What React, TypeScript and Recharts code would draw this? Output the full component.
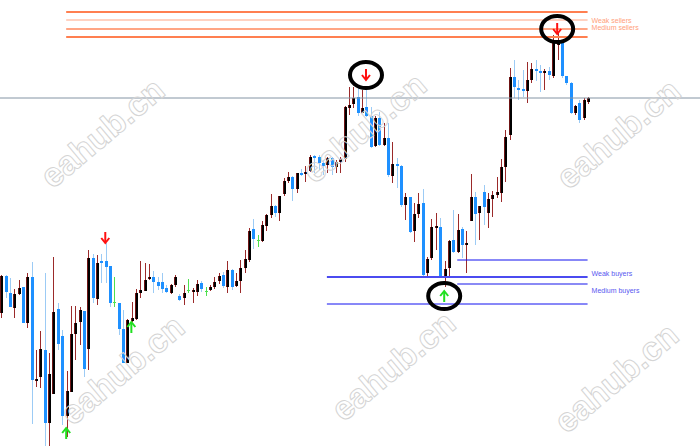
import { ComposedChart, Bar, XAxis, YAxis, ReferenceLine, ReferenceDot } from 'recharts';

// candle prices (chart has no price scale, so units are points)
const opens = [
  134, 171, 154, 139, 153, 160, 124, 170, 66, 70, 97, 24, 53, 138, 111, 31, 55, 113, 125, 136,
  98, 189, 148, 186, 186, 181, 145, 144, 118, 84, 126, 128, 154, 156, 168, 170, 165, 165, 159, 154,
  162, 151, 149, 157, 155, 155, 164, 156, 157, 160, 166, 172, 160, 177, 161, 166, 179, 187, 218, 207,
  206, 221, 232, 241, 234, 253, 266, 270, 258, 274, 273, 276, 291, 290, 284, 282, 289, 280, 285, 288,
  339, 343, 350, 334, 340, 331, 301, 329, 302, 309, 271, 283, 281, 242, 250, 216, 233, 244, 174, 189,
  220, 220, 170, 179, 207, 195, 218, 203, 226, 250, 234, 255, 234, 248, 252, 254, 280, 312, 370, 359,
  358, 356, 367, 378, 376, 374, 376, 371, 402, 404, 371, 364, 334, 344, 329, 345,
];
const highs = [
  172, 172, 169, 158, 167, 160, 174, 185, 97, 116, 174, 94, 190, 144, 117, 76, 141, 141, 140, 136,
  197, 193, 192, 193, 204, 181, 170, 144, 137, 128, 145, 158, 186, 184, 183, 176, 170, 174, 162, 163,
  172, 153, 162, 168, 159, 167, 166, 160, 162, 170, 174, 175, 186, 178, 174, 187, 197, 219, 228, 212,
  226, 233, 253, 242, 251, 269, 275, 271, 274, 278, 281, 292, 292, 292, 287, 290, 290, 287, 290, 341,
  360, 360, 360, 357, 361, 340, 331, 335, 324, 324, 305, 289, 282, 254, 250, 244, 254, 258, 190, 228,
  234, 229, 186, 207, 237, 233, 220, 216, 273, 255, 241, 262, 254, 256, 270, 288, 317, 379, 387, 367,
  377, 385, 384, 387, 382, 378, 380, 412, 414, 407, 371, 365, 342, 347, 349, 350,
];
const lows = [
  129, 149, 140, 129, 152, 124, 119, 23, 60, 59, 1, 1, 53, 97, 22, 10, 55, 87, 102, 70,
  77, 144, 142, 164, 164, 140, 140, 112, 84, 84, 125, 127, 149, 156, 167, 154, 157, 154, 154, 153,
  160, 146, 142, 154, 144, 151, 155, 151, 156, 158, 163, 159, 154, 157, 160, 154, 174, 185, 198, 200,
  205, 216, 229, 230, 226, 251, 264, 246, 254, 271, 265, 275, 274, 277, 272, 274, 272, 274, 274, 285,
  332, 339, 331, 334, 330, 299, 300, 301, 301, 270, 264, 259, 240, 227, 214, 205, 229, 170, 169, 187,
  197, 170, 160, 170, 194, 194, 189, 174, 226, 202, 207, 222, 219, 230, 249, 245, 265, 307, 349, 347,
  350, 344, 364, 366, 355, 357, 367, 369, 387, 369, 362, 333, 332, 324, 327, 343,
];
const closes = [
  171, 155, 140, 153, 159, 124, 170, 67, 68, 98, 24, 73, 135, 103, 31, 56, 113, 124, 137, 78,
  189, 149, 184, 184, 180, 144, 145, 118, 84, 127, 129, 154, 157, 167, 170, 165, 161, 158, 155, 162,
  170, 147, 154, 157, 157, 163, 158, 156, 160, 165, 171, 161, 177, 160, 166, 179, 188, 216, 208, 207,
  222, 232, 241, 234, 251, 266, 270, 258, 274, 273, 275, 290, 289, 284, 281, 289, 280, 285, 288, 340,
  342, 349, 334, 339, 331, 300, 329, 302, 309, 272, 283, 282, 242, 250, 215, 233, 243, 172, 188, 220,
  221, 170, 178, 206, 195, 217, 202, 204, 250, 233, 241, 240, 248, 252, 255, 280, 310, 370, 360, 357,
  356, 367, 378, 376, 375, 376, 372, 404, 404, 371, 364, 334, 341, 327, 347, 349,
];

// signal arrows (bar index, price)
const sellBars = [24, 84, 128];
const sellPrices = [209, 372, 418];
const buyBars = [15, 30, 102];
const buyPrices = [14, 120, 151];
const circledBars = [84, 128, 102];
const circledPrices = [372, 418, 151];

// supply / demand levels
const sellerLevels = [435, 427, 418, 410];
const sellerStart = 15;
const buyerLevels = [187, 170, 163, 143];
const buyerStarts = [105, 75, 105, 75];
const levelEnd = 135;
const currentPrice = 349;

const zoneLabels = ['Weak sellers', 'Medium sellers', 'Weak buyers', 'Medium buyers'];
const zoneLabelPrices = [424, 417.5, 171.5, 154];

const watermark = 'eahub.cn';

const candles = opens.map((o, i) => ({ i, open: o, high: highs[i], low: lows[i], close: closes[i] }));

const BULL_WICK = '#9b2a2a';
const BEAR_WICK = '#9ccbf5';
const BEAR_BODY = '#1e90ff';
const DOJI = '#4ee04e';

function Candle(props: any) {
  const { x, y, width, height, payload } = props;
  const { open, high, low, close } = payload;
  const top = Math.min(y, y + height);
  const h = Math.abs(height);
  const k = high > low ? h / (high - low) : 0;
  const py = (v: number) => Math.round(top + (high - v) * k);
  const cx = Math.round(x + width / 2);
  const yh = py(high);
  const yl = py(low);
  const yo = py(open);
  const yc = py(close);

  if (open === close) {
    return (
      <g>
        <line x1={cx + 0.5} x2={cx + 0.5} y1={yh} y2={yl} stroke={DOJI} />
        <line x1={cx - 1} x2={cx + 2} y1={yo + 0.5} y2={yo + 0.5} stroke={DOJI} />
      </g>
    );
  }
  const bull = close > open;
  const bTop = Math.min(yo, yc);
  const bH = Math.max(2, Math.abs(yo - yc));
  return (
    <g>
      <line x1={cx + 0.5} x2={cx + 0.5} y1={yh} y2={yl} stroke={bull ? BULL_WICK : BEAR_WICK} />
      {bull ? (
        <g>
          <rect x={cx - 1} y={bTop} width={3} height={bH} fill="#000" />
          <line x1={cx - 0.5} x2={cx - 0.5} y1={bTop} y2={bTop + bH} stroke="#8b1a1a" strokeOpacity={0.8} />
        </g>
      ) : (
        <rect x={cx - 1} y={bTop} width={3} height={bH} fill={BEAR_BODY} />
      )}
    </g>
  );
}

const downArrow = (p: any) => (
  <g stroke="#ff1010" strokeWidth={2} fill="none">
    <line x1={p.cx} x2={p.cx} y1={p.cy - 6} y2={p.cy + 4} />
    <polyline points={`${p.cx - 4},${p.cy} ${p.cx},${p.cy + 5} ${p.cx + 4},${p.cy}`} />
  </g>
);

const upArrow = (p: any) => (
  <g stroke="#20e020" strokeWidth={2} fill="none">
    <line x1={p.cx} x2={p.cx} y1={p.cy + 6} y2={p.cy - 4} />
    <polyline points={`${p.cx - 4},${p.cy} ${p.cx},${p.cy - 5} ${p.cx + 4},${p.cy}`} />
  </g>
);

const ring = (p: any) => <ellipse cx={p.cx} cy={p.cy} rx={16} ry={13} fill="none" stroke="#000" strokeWidth={4} />;

const labelShape = (text: string, color: string) => (p: any) => (
  <text x={p.cx + 4} y={p.cy} fontSize={7} fontFamily="Liberation Sans, Arial" fill={color}>{text}</text>
);

const watermarkSpots = [
  [104, 135], [366, 130], [620, 136], [124, 372], [395, 368], [618, 380],
];

export default function App() {
  return (
    <div style={{ position: 'absolute', left: 0, top: 0, width: 700, height: 447, background: '#fff', overflow: 'hidden' }}>
      <ComposedChart width={700} height={447} data={candles} margin={{ top: 0, right: 0, bottom: 0, left: 0 }}>
        <XAxis type="number" dataKey="i" domain={[-0.23, 160.87]} allowDataOverflow hide />
        <YAxis type="number" domain={[0, 447]} allowDataOverflow hide />

        <ReferenceLine y={currentPrice} stroke="#8494a4" strokeWidth={1} />

        {sellerLevels.map((lv, n) => (
          <ReferenceLine
            key={'s' + n}
            segment={[{ x: sellerStart, y: lv }, { x: levelEnd, y: lv }]}
            stroke={n === 0 || n === 3 ? '#ff7f50' : '#ffa584'}
            strokeWidth={n === 1 ? 1 : 2}
          />
        ))}
        {buyerLevels.map((lv, n) => (
          <ReferenceLine
            key={'b' + n}
            segment={[{ x: buyerStarts[n], y: lv }, { x: levelEnd, y: lv }]}
            stroke={n === 1 ? '#4b4bf0' : n === 2 ? '#8a8af5' : '#1010f0'}
            strokeWidth={n === 1 || n === 2 ? 2 : 1}
          />
        ))}

        <Bar dataKey={(d: any) => [d.low, d.high]} barSize={3} shape={Candle} isAnimationActive={false} />

        {sellBars.map((b, n) => (
          <ReferenceDot key={'d' + n} x={b} y={sellPrices[n]} shape={downArrow} />
        ))}
        {buyBars.map((b, n) => (
          <ReferenceDot key={'u' + n} x={b} y={buyPrices[n]} shape={upArrow} />
        ))}
        {circledBars.map((b, n) => (
          <ReferenceDot key={'c' + n} x={b} y={circledPrices[n]} shape={ring} />
        ))}
        {zoneLabels.map((t, n) => (
          <ReferenceDot key={'l' + n} x={levelEnd} y={zoneLabelPrices[n]} shape={labelShape(t, n < 2 ? '#ffa07a' : '#5858f0')} />
        ))}
      </ComposedChart>

      <svg width={700} height={447} style={{ position: 'absolute', left: 0, top: 0, pointerEvents: 'none' }}>
        {watermarkSpots.map(([x, y], n) => (
          <text
            key={n}
            x={x}
            y={y}
            textAnchor="middle"
            dominantBaseline="middle"
            fontSize={34}
            fontFamily="Liberation Sans, Arial"
            fontWeight="bold"
            fill="none"
            stroke="#d4d4d4"
            strokeWidth={1}
            transform={`rotate(-40 ${x} ${y})`}
          >
            {watermark}
          </text>
        ))}
      </svg>
    </div>
  );
}
